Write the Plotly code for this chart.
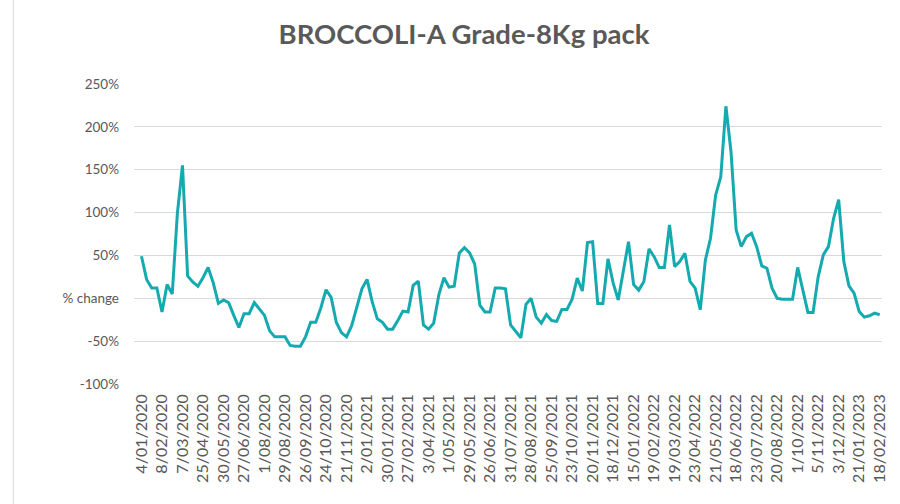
import plotly.graph_objects as go

# Weekly % change values
pct_change = [
    49, 22, 12, 12, -16, 16, 5, 99, 155, 26,
    19, 14, 24, 36, 18, -6, -2, -5, -20, -34,
    -18, -18, -5, -13, -20, -38, -45, -45, -45, -55,
    -56, -56, -45, -28, -28, -11, 10, 1, -28, -40,
    -45, -32, -9, 11, 22, -4, -24, -28, -36, -36,
    -26, -15, -16, 15, 20, -31, -36, -29, 4, 24,
    13, 14, 53, 59, 53, 40, -8, -16, -16, 12,
    12, 11, -31, -38, -46, -7, 0, -22, -29, -19,
    -26, -27, -13, -13, -1, 23.5, 8.5, 65, 66, -6,
    -6, 46, 18, -2, 31, 66, 16, 9.5, 19.6, 57.6,
    48.6, 35.8, 35.8, 85.5, 37, 42.8, 52.6, 19.6, 11.9, -13.4,
    44.8, 70, 120.4, 141.7, 224, 170.7, 79.7, 60.3, 71.9, 75.8,
    60.3, 37.8, 35.1, 11.8, 0, -1, -1, -1, 36, 10,
    -16.5, -16.5, 25, 50.6, 60.3, 93, 115, 43, 14.5, 6,
    -15.3, -22, -20.4, -17.3, -19.2,
]

# Category-axis labels (one every 4th point)
tick_labels = [
    "4/01/2020", "8/02/2020", "7/03/2020", "25/04/2020", "30/05/2020",
    "27/06/2020", "1/08/2020", "29/08/2020", "26/09/2020", "24/10/2020",
    "21/11/2020", "2/01/2021", "30/01/2021", "27/02/2021", "3/04/2021",
    "1/05/2021", "29/05/2021", "26/06/2021", "31/07/2021", "28/08/2021",
    "25/09/2021", "23/10/2021", "20/11/2021", "18/12/2021", "15/01/2022",
    "19/02/2022", "19/03/2022", "23/04/2022", "21/05/2022", "18/06/2022",
    "23/07/2022", "20/08/2022", "1/10/2022", "5/11/2022", "3/12/2022",
    "21/01/2023", "18/02/2023",
]
label_step = 4

y_tick_values = [-100, -50, 0, 50, 100, 150, 200, 250]
y_tick_text = ["-100%", "-50%", "% change", "50%", "100%", "150%", "200%", "250%"]

x_idx = list(range(len(pct_change)))
tick_pos = [i * label_step for i in range(len(tick_labels))]

FONT = "Lato"
GREY = "#595959"

fig = go.Figure(
    go.Scatter(
        x=x_idx,
        y=pct_change,
        mode="lines",
        line=dict(color="#14AAAF", width=3),
        hoverinfo="skip",
    )
)

fig.update_layout(
    width=900,
    height=504,
    margin=dict(l=134, r=16, t=84, b=120),
    paper_bgcolor="white",
    plot_bgcolor="white",
    showlegend=False,
    font=dict(family=FONT, color=GREY),
    title=dict(
        text="BROCCOLI-A Grade-8Kg pack",
        font=dict(family=FONT, size=27.5, color=GREY, weight="bold"),
        xref="container",
        yref="container",
        x=464 / 900,
        xanchor="center",
        y=1 - 34 / 504,
        yanchor="middle",
    ),
    xaxis=dict(
        range=[-1.46, 144.45],
        tickmode="array",
        tickvals=tick_pos,
        ticktext=tick_labels,
        tickangle=-90,
        tickfont=dict(family=FONT, size=16, color=GREY),
        showgrid=False,
        zeroline=False,
        showline=False,
        ticks="",
        ticklabelstandoff=6,
    ),
    yaxis=dict(
        range=[-100, 250],
        tickmode="array",
        tickvals=y_tick_values,
        ticktext=y_tick_text,
        tickfont=dict(family=FONT, size=13.5, color=GREY),
        showgrid=True,
        gridcolor="#D9D9D9",
        gridwidth=1,
        zeroline=False,
        showline=False,
        ticks="",
        ticklabelstandoff=14,
    ),
    shapes=[
        dict(
            type="line",
            xref="paper",
            yref="paper",
            x0=(13 - 134) / 750,
            x1=(13 - 134) / 750,
            y0=-0.4,
            y1=1.28,
            line=dict(color="#D9D9D9", width=1),
        )
    ],
)

fig.write_html(
    "out.html",
    config={"displayModeBar": False},
    post_script="document.body.style.margin='0';document.body.style.overflow='hidden';",
)
